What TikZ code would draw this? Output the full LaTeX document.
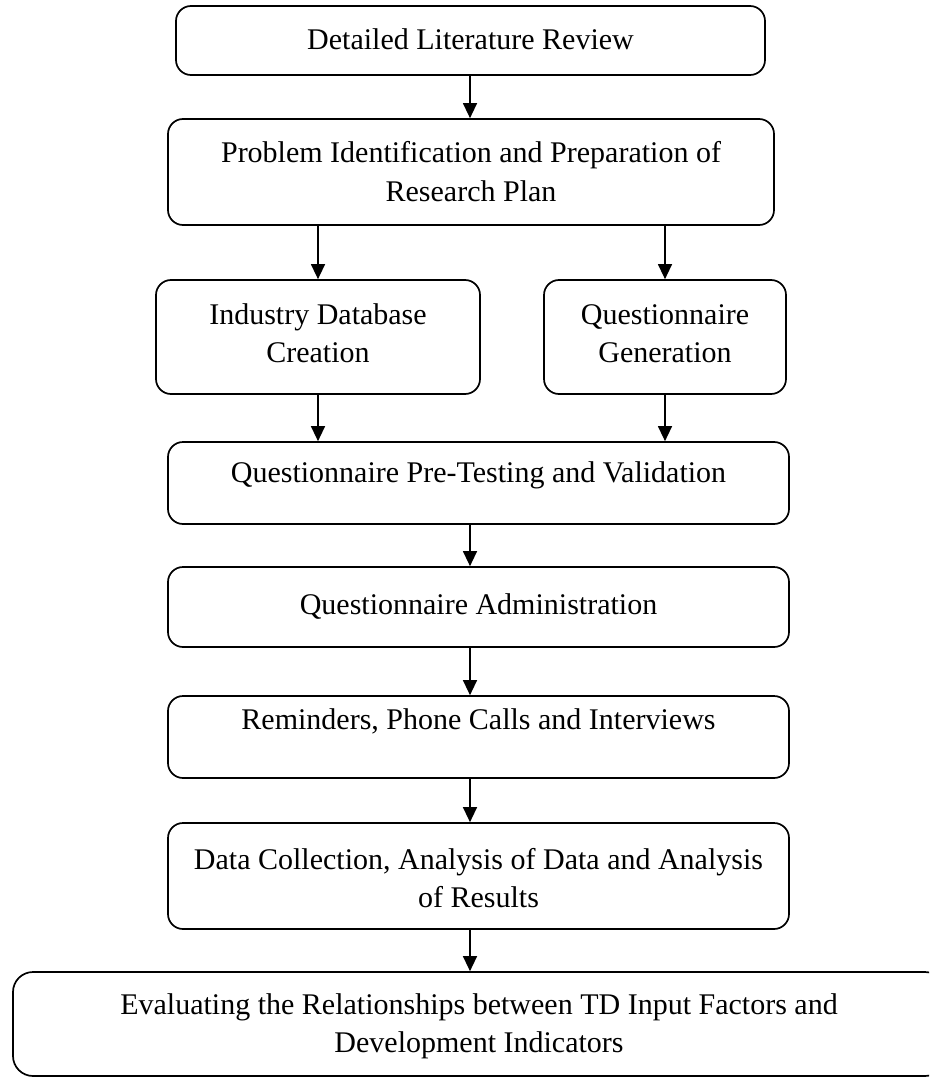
\documentclass[tikz,border=0pt]{standalone}
\usepackage{fontspec}
\setmainfont{Liberation Serif}
\usetikzlibrary{arrows.meta}
\begin{document}
\begin{tikzpicture}[x=1pt,y=-1pt,
  box/.style={draw, line width=1.7pt, rounded corners=15pt, inner sep=0pt},
  txt/.style={anchor=base, inner sep=0pt, font=\fontsize{30}{38}\selectfont},
  arr/.style={line width=1.3pt, -{Triangle[length=15pt,width=14pt]}}]
\clip (0,0) rectangle (929,1078);
\fill[white] (0,0) rectangle (929,1078);
\coordinate (axis) at (470,0);
% boxes
\node[box, minimum width=589pt, minimum height=69pt]  (b1) at (470.5,40.5) {};
\node[box, minimum width=606pt, minimum height=106pt] (b2) at (471,172) {};
\node[box, minimum width=324pt, minimum height=114pt] (b3) at (318,337) {};
\node[box, minimum width=242pt, minimum height=114pt] (b4) at (665,337) {};
\node[box, minimum width=621pt, minimum height=82pt]  (b5) at (478.5,483) {};
\node[box, minimum width=621pt, minimum height=80pt]  (b6) at (478.5,607) {};
\node[box, minimum width=621pt, minimum height=82pt]  (b7) at (478.5,737) {};
\node[box, minimum width=621pt, minimum height=106pt] (b8) at (478.5,876) {};
\node[box, minimum width=932pt, minimum height=104pt, rounded corners=20pt] (b9) at (479,1024) {};
% texts
\node[txt] (t1)  at (470.5,50) {Detailed Literature Review};
\node[txt] (t2a) at (471,163) {Problem Identification and Preparation of};
\node[txt] (t2b) at (471,201) {Research Plan};
\node[txt] (t3a) at (318,324) {Industry Database};
\node[txt] (t3b) at (318,362) {Creation};
\node[txt] (t4a) at (665,324) {Questionnaire};
\node[txt] (t4b) at (665,362) {Generation};
\node[txt] (t5)  at (478.5,482) {Questionnaire Pre-Testing and Validation};
\node[txt] (t6)  at (478.5,614) {Questionnaire Administration};
\node[txt] (t7)  at (478.5,729) {Reminders, Phone Calls and Interviews};
\node[txt] (t8a) at (478.5,869) {Data Collection, Analysis of Data and Analysis};
\node[txt] (t8b) at (478.5,907) {of Results};
\node[txt] (t9a) at (479,1014) {Evaluating the Relationships between TD Input Factors and};
\node[txt] (t9b) at (479,1052) {Development Indicators};
% connectors
\draw[arr] (b1.south -| axis) -- (b2.north -| axis);
\draw[arr] (b2.south -| b3.north) -- (b3.north);
\draw[arr] (b2.south -| b4.north) -- (b4.north);
\draw[arr] (b3.south) -- (b5.north -| b3.south);
\draw[arr] (b4.south) -- (b5.north -| b4.south);
\draw[arr] (b5.south -| axis) -- (b6.north -| axis);
\draw[arr] (b6.south -| axis) -- (b7.north -| axis);
\draw[arr] (b7.south -| axis) -- (b8.north -| axis);
\draw[arr] (b8.south -| axis) -- (b9.north -| axis);
\end{tikzpicture}
\end{document}
